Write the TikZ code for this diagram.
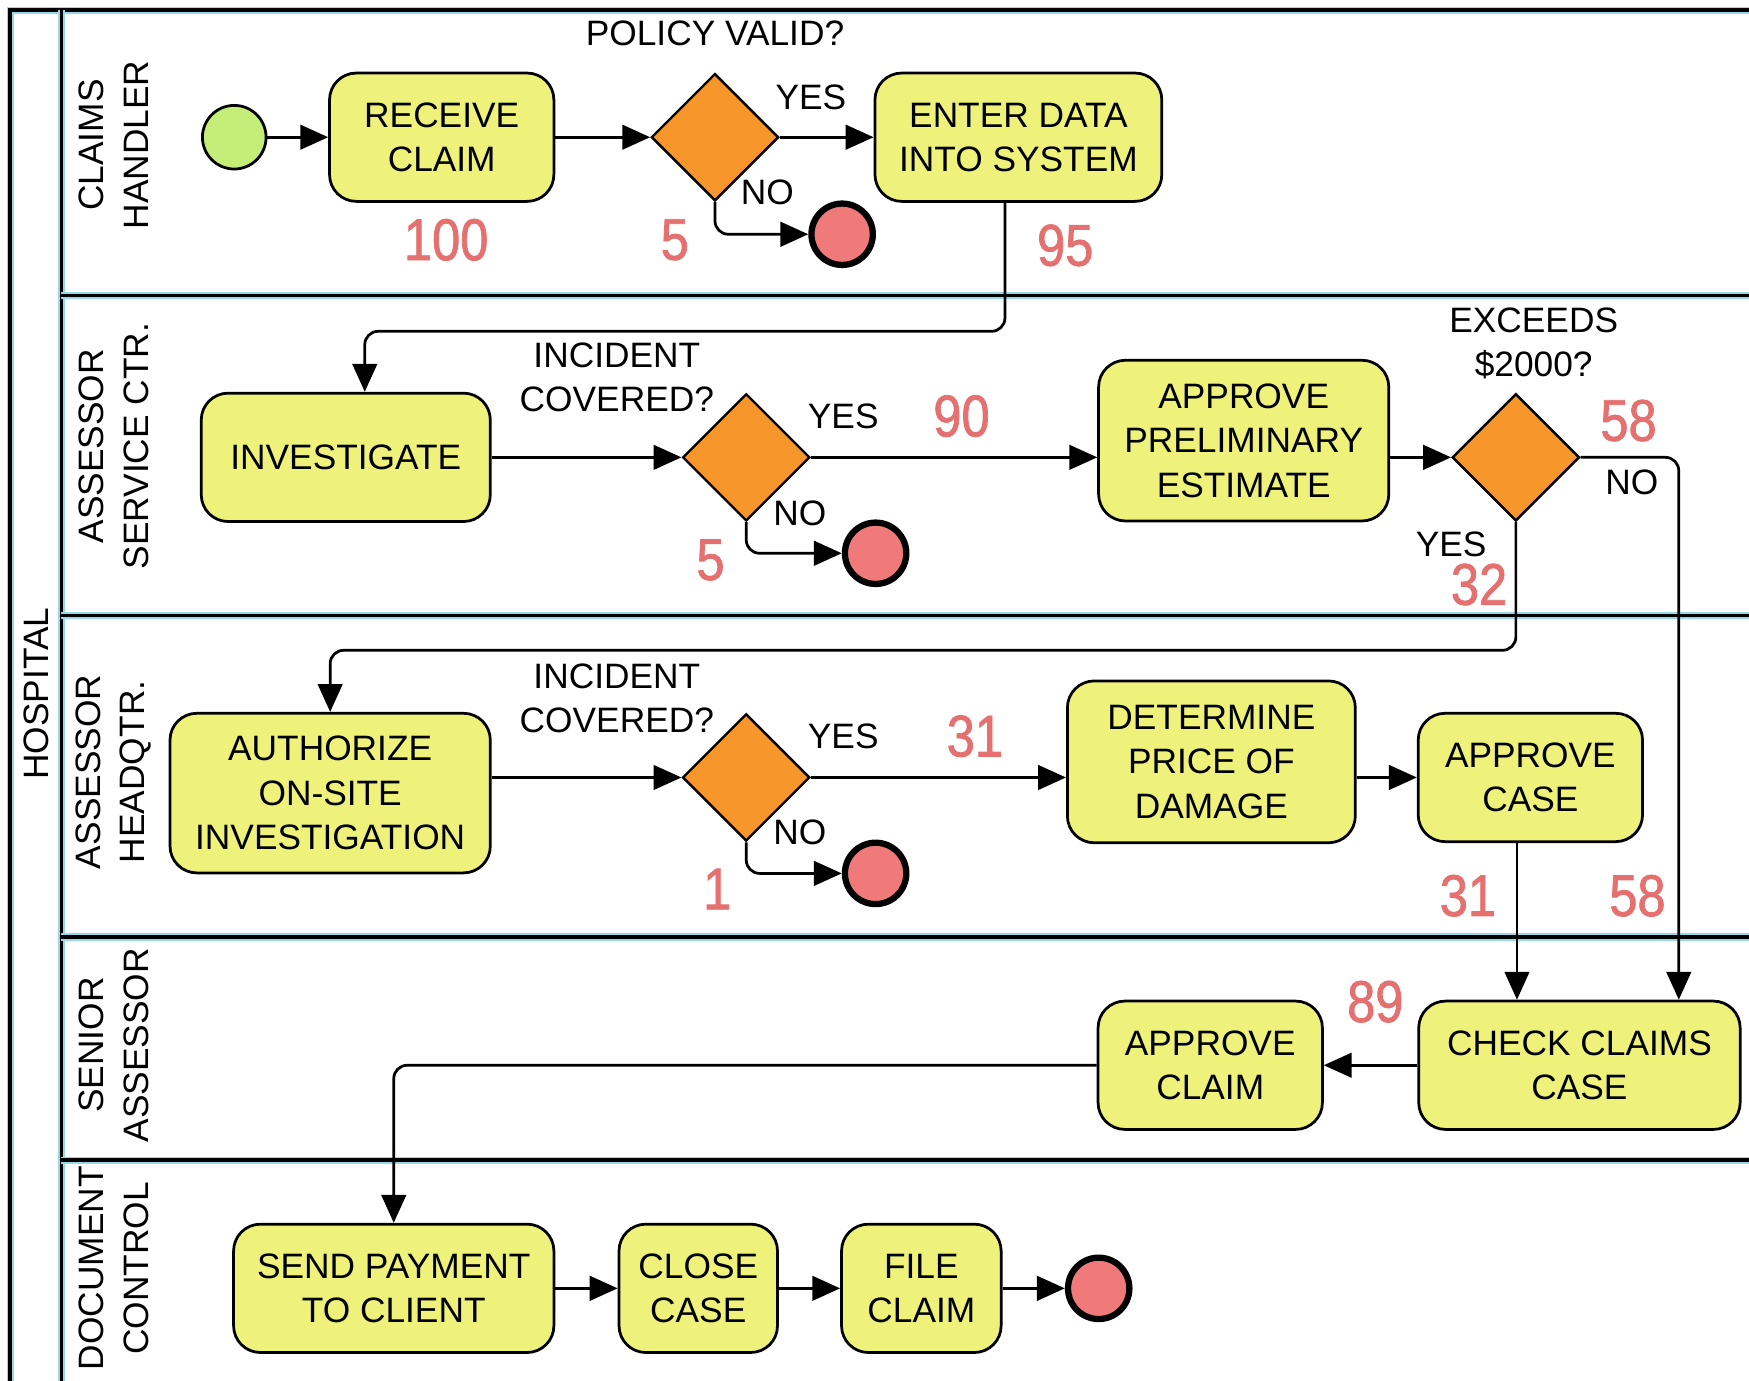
\documentclass[tikz,border=0pt]{standalone}
\usepackage{fontspec}
\setmainfont{Liberation Sans}
\newfontfamily\numfont[FakeStretch=0.86, FakeBold=1.3]{Liberation Sans}
\usetikzlibrary{arrows.meta, shapes.geometric}
\usetikzlibrary{positioning}

\definecolor{task_fill}{RGB}{238,242,122}
\definecolor{gate_fill}{RGB}{247,150,43}
\definecolor{start_fill}{RGB}{196,238,120}
\definecolor{end_fill}{RGB}{240,122,122}
\definecolor{count_red}{RGB}{229,112,112}
\definecolor{halo}{RGB}{150,215,235}

\tikzstyle{task_node} = [
    rectangle,
    rounded corners=0.24cm,
    draw=black,
    fill=task_fill,
    line width=0.7pt,
    align=center,
    inner sep=0pt,
    minimum height=1.15cm,
    font=\fontsize{9}{11.3}\selectfont
]
\tikzstyle{gate_node} = [
    diamond,
    draw=black,
    fill=gate_fill,
    line width=0.6pt,
    inner sep=0pt,
    minimum width=1.14cm,
    minimum height=1.14cm
]
\tikzstyle{start_node} = [
    circle,
    draw=black,
    fill=start_fill,
    line width=0.7pt,
    inner sep=0pt,
    minimum size=0.57cm
]
\tikzstyle{end_node} = [
    circle,
    draw=black,
    fill=end_fill,
    line width=1.6pt,
    inner sep=0pt,
    minimum size=0.55cm
]
\tikzstyle{note} = [
    align=center,
    inner sep=0pt,
    font=\fontsize{9}{11.3}\selectfont
]
\tikzstyle{count} = [
    inner sep=0pt,
    text=count_red,
    font=\numfont\fontsize{15}{16}\selectfont
]
\tikzstyle{lane_label} = [
    rotate=90,
    align=center,
    inner sep=0pt,
    font=\fontsize{9}{11.3}\selectfont
]
\tikzstyle{lane_line} = [
    draw=black,
    line width=0.85pt,
    preaction={draw=halo, line width=1.8pt}
]
\tikzstyle{flow} = [
    draw=black,
    line width=0.7pt,
    rounded corners=0.12cm,
    -{Triangle[length=0.25cm, width=0.22cm]}
]

\begin{document}
\begin{tikzpicture}[x=0.01cm, y=-0.01cm]
\useasboundingbox (0,0) rectangle (1568,1238);

% pool and lanes
\draw[lane_line] (1600,9) -- (9,9) -- (9,1260);
\draw[lane_line] (55,9) -- (55,1260);
\foreach \y in {265,552,840,1040}
    \draw[lane_line] (55,\y) -- (1600,\y);

\node[lane_label] (pool) at (33,622) {HOSPITAL};
\node[lane_label] (lane_claims) at (102,130) {CLAIMS\\HANDLER};
\node[lane_label] (lane_service) at (102,400) {ASSESSOR\\SERVICE CTR.};
\node[lane_label] (lane_hq) at (102,692) {ASSESSOR\\HEADQTR.};
\node[lane_label] (lane_senior) at (102,937) {SENIOR\\ASSESSOR};
\node[lane_label] (lane_doc) at (102,1137) {DOCUMENT\\CONTROL};

% claims handler
\node[start_node] (start) at (210,123) {};
\node[task_node, minimum width=2.01cm] (receive) at (396,123) {RECEIVE\\CLAIM};
\node[gate_node] (policy) at (641,123) {};
\node[task_node, minimum width=2.57cm] (enter) at (913,123) {ENTER DATA\\INTO SYSTEM};
\node[end_node] (end_policy) at (755,210) {};

% assessor service ctr.
\node[task_node, minimum width=2.59cm] (investigate) at (310,410) {INVESTIGATE};
\node[gate_node] (covered_a) at (669,410) {};
\node[end_node] (end_covered_a) at (785,496) {};
\node[task_node, minimum width=2.60cm, minimum height=1.44cm] (prelim) at (1115,395) {APPROVE\\PRELIMINARY\\ESTIMATE};
\node[gate_node] (exceeds) at (1359,410) {};

% assessor headqtr.
\node[task_node, minimum width=2.87cm, minimum height=1.43cm] (authorize) at (296,711) {AUTHORIZE\\ON-SITE\\INVESTIGATION};
\node[gate_node] (covered_b) at (669,697) {};
\node[end_node] (end_covered_b) at (785,783) {};
\node[task_node, minimum width=2.58cm, minimum height=1.45cm] (price) at (1086,683) {DETERMINE\\PRICE OF\\DAMAGE};
\node[task_node, minimum width=2.01cm] (approve_case) at (1372,697) {APPROVE\\CASE};

% senior assessor
\node[task_node, minimum width=2.88cm] (check) at (1416,955) {CHECK CLAIMS\\CASE};
\node[task_node, minimum width=2.01cm] (approve_claim) at (1085,955) {APPROVE\\CLAIM};

% document control
\node[task_node, minimum width=2.87cm] (payment) at (353,1155) {SEND PAYMENT\\TO CLIENT};
\node[task_node, minimum width=1.42cm] (close) at (626,1155) {CLOSE\\CASE};
\node[task_node, minimum width=1.43cm] (file) at (826,1155) {FILE\\CLAIM};
\node[end_node] (end_file) at (985,1155) {};

% flows
\draw[flow] (start) -- (receive);
\draw[flow] (receive) -- (policy);
\draw[flow] (policy) -- (enter);
\draw[flow] (policy.south) |- (end_policy.west);
\draw[flow] ([xshift=-0.12cm]enter.south) |- (600,297) -| ([xshift=0.17cm]investigate.north);
\draw[flow] (investigate) -- (covered_a);
\draw[flow] (covered_a.east) -- (covered_a.east -| prelim.west);
\draw[flow] (covered_a.south) |- (end_covered_a.west);
\draw[flow] (exceeds.west -| prelim.east) -- (exceeds.west);
\draw[flow] (exceeds.south) |- (800,583) -| (authorize.north);
\draw[flow] (exceeds.east) -| ([xshift=0.89cm]check.north);
\draw[flow] (covered_b.west -| authorize.east) -- (covered_b.west);
\draw[flow] (covered_b.east) -- (covered_b.east -| price.west);
\draw[flow] (covered_b.south) |- (end_covered_b.west);
\draw[flow] (approve_case.west -| price.east) -- (approve_case.west);
\draw[flow] ([xshift=-0.12cm]approve_case.south) -- ([xshift=-0.12cm]approve_case.south |- check.north);
\draw[flow] (check) -- (approve_claim);
\draw[flow] (approve_claim.west) -| (payment.north);
\draw[flow] (payment) -- (close);
\draw[flow] (close) -- (file);
\draw[flow] (file) -- (end_file);

% questions and answers
\node[note] (q_policy) at (641,30) {POLICY VALID?};
\node[note] (yes_policy) at (727,87) {YES};
\node[note] (no_policy) at (688,172) {NO};
\node[note] (q_covered_a) at (553,338) {INCIDENT\\COVERED?};
\node[note] (yes_covered_a) at (756,373) {YES};
\node[note] (no_covered_a) at (717,460) {NO};
\node[note] (q_exceeds) at (1375,308) {EXCEEDS\\\$2000?};
\node[note] (no_exceeds) at (1463,432) {NO};
\node[note] (yes_exceeds) at (1301,488) {YES};
\node[note] (q_covered_b) at (553,626) {INCIDENT\\COVERED?};
\node[note] (yes_covered_b) at (756,660) {YES};
\node[note] (no_covered_b) at (717,746) {NO};

% counts
\node[count] (n_receive) at (400,215) {100};
\node[count] (n_policy_no) at (605,215) {5};
\node[count] (n_enter) at (955,220) {95};
\node[count] (n_covered_a_yes) at (862,373) {90};
\node[count] (n_covered_a_no) at (637,502) {5};
\node[count] (n_exceeds_no) at (1460,377) {58};
\node[count] (n_exceeds_yes) at (1326,524) {32};
\node[count] (n_covered_b_yes) at (874,660) {31};
\node[count] (n_covered_b_no) at (643,797) {1};
\node[count] (n_approve_case) at (1316,803) {31};
\node[count] (n_direct) at (1468,803) {58};
\node[count] (n_check) at (1233,898) {89};
\end{tikzpicture}
\end{document}
